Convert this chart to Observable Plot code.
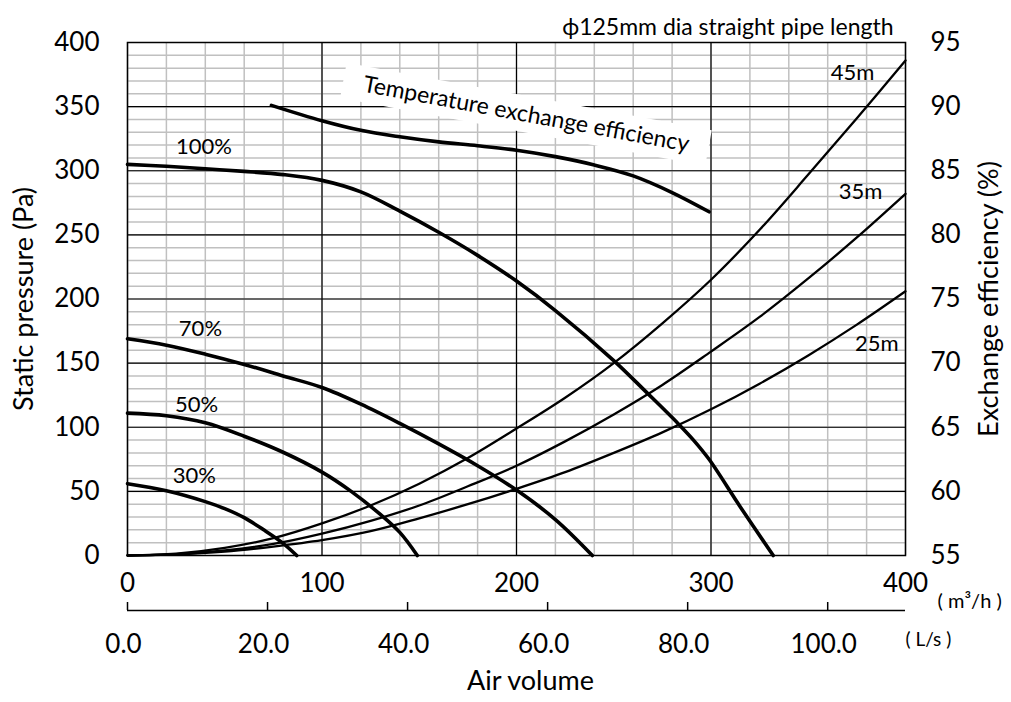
<!DOCTYPE html>
<html>
<head>
<meta charset="utf-8">
<script src="https://cdn.jsdelivr.net/npm/d3@7"></script>
<script src="https://cdn.jsdelivr.net/npm/@observablehq/plot@0.6"></script>
<style>
  html, body { margin: 0; padding: 0; background: white; }
</style>
</head>
<body>
<div id="chart"></div>
<script>
// Air volume (m³/h) vs static pressure (Pa) — fan curves
const fan100 = [[0,305],[20,303.5],[40,301.5],[60,299.5],[80,297],[100,292.5],[120,283.5],[140,268.5],[160,252],[180,234],[200,214],[220,191],[250,152],[267,127],[283,103],[291,90],[299,75],[315,38],[332,0]];
const fan70  = [[0,169],[20,164],[40,157],[60,149],[80,140],[100,131],[120,118],[140,103],[160,87],[180,70],[200,51],[220,28],[239,0]];
const fan50  = [[0,111],[20,109],[40,103.5],[60,93],[80,80.5],[100,65],[115,50],[130,32],[140,18],[149,0]];
const fan30  = [[0,56],[20,50.5],[40,42],[50,36.5],[60,29.5],[70,20],[80,9.5],[87,0]];

// Pipe (system) resistance curves, Pa
const pipe45 = [[0,0],[25,1.5],[50,6],[75,13.5],[100,25],[125,39],[150,56],[175,76],[200,99],[225,123],[250,150],[275,181],[300,215],[325,254],[350,297],[375,341],[400,386]];
const pipe35 = [[0,0],[25,1],[50,4],[75,9],[100,17],[125,27],[150,39],[175,54],[200,70],[225,89],[250,110],[275,133],[300,159],[325,186],[350,216],[375,248],[400,282]];
const pipe25 = [[0,0],[25,0.8],[50,3],[75,7],[100,12],[125,19],[150,29],[175,40],[200,52],[225,65],[250,80],[275,96],[300,114],[325,134],[350,156],[375,180],[400,206]];

// Temperature exchange efficiency (%), right axis
const efficiency = [[74,90.1],[100,88.9],[120,88.15],[140,87.65],[160,87.25],[180,86.95],[200,86.6],[220,86.1],[240,85.45],[260,84.6],[280,83.3],[299,81.8]];

// Tick labels
const pressureTicks = [0,50,100,150,200,250,300,350,400];
const effTicks = [55,60,65,70,75,80,85,90,95];
const m3hTicks = [0,100,200,300,400];
const lsTicks = [0,20,40,60,80,100];
const minorX = d3.range(0, 401, 20);
const majorX = [100,200,300];
const minorY = d3.range(10, 400, 10);
const majorY = [50,100,150,200,250,300,350];

const fanLabels = [
  {text:"100%", q:39.3, p:318.5},
  {text:"70%", q:37.5, p:177},
  {text:"50%", q:35.5, p:117},
  {text:"30%", q:34.4, p:62.4}
];
const pipeLabels = [
  {text:"45m", q:372.8, p:376},
  {text:"35m", q:376.9, p:283.4},
  {text:"25m", q:385.3, p:165}
];
// white label box behind the rotated efficiency caption (ends of its centre line)
const captionBox = [{q:111, p:370.5}, {q:298.7, p:317.7}];

const toRows = arr => arr.map(([q, p]) => ({q, p}));
const effToP = e => (e - 55) * 10;

const font = "Lato, 'Open Sans', sans-serif";

const chart = Plot.plot({
  width: 1011,
  height: 702,
  marginLeft: 127,
  marginRight: 106,
  marginTop: 42,
  marginBottom: 147,
  x: {domain: [0, 400], axis: null},
  y: {domain: [0, 400], axis: null},
  style: {fontFamily: font, fontSize: "26px", color: "black", background: "white"},
  marks: [
    // grid
    Plot.ruleX(minorX, {stroke: "#c0c0c0", strokeWidth: 1.5, strokeOpacity: 1}),
    Plot.ruleY(minorY, {stroke: "#c0c0c0", strokeWidth: 1.5, strokeOpacity: 1}),
    Plot.ruleX(majorX, {stroke: "black", strokeWidth: 1.2}),
    Plot.ruleY(majorY, {stroke: "black", strokeWidth: 1.2}),
    Plot.frame({stroke: "black", strokeWidth: 1.5}),

    // efficiency caption with white box
    Plot.line(captionBox, {x: "q", y: "p", stroke: "white", strokeWidth: 36, strokeLinecap: "butt", curve: "linear"}),
    Plot.text(["Temperature exchange efficiency"], {
      x: 205, y: 344, rotate: 10.5, fontSize: 23, fill: "black"
    }),

    // pipe curves
    Plot.line(toRows(pipe45), {x: "q", y: "p", stroke: "black", strokeWidth: 2.3, curve: "catmull-rom"}),
    Plot.line(toRows(pipe35), {x: "q", y: "p", stroke: "black", strokeWidth: 2.3, curve: "catmull-rom"}),
    Plot.line(toRows(pipe25), {x: "q", y: "p", stroke: "black", strokeWidth: 2.3, curve: "catmull-rom"}),

    // fan curves
    Plot.line(toRows(fan100), {x: "q", y: "p", stroke: "black", strokeWidth: 3.6, curve: "catmull-rom"}),
    Plot.line(toRows(fan70), {x: "q", y: "p", stroke: "black", strokeWidth: 3.6, curve: "catmull-rom"}),
    Plot.line(toRows(fan50), {x: "q", y: "p", stroke: "black", strokeWidth: 3.6, curve: "catmull-rom"}),
    Plot.line(toRows(fan30), {x: "q", y: "p", stroke: "black", strokeWidth: 3.6, curve: "catmull-rom"}),

    // efficiency curve (right axis)
    Plot.line(efficiency.map(([q, e]) => ({q, p: effToP(e)})), {x: "q", y: "p", stroke: "black", strokeWidth: 3.6, curve: "catmull-rom"}),

    // curve labels
    Plot.text(fanLabels, {x: "q", y: "p", text: "text", fontSize: 22, fill: "black"}),
    Plot.text(pipeLabels, {x: "q", y: "p", text: "text", fontSize: 22, fill: "black"}),

    // left axis
    Plot.axisY({anchor: "left", ticks: pressureTicks, tickSize: 0, tickPadding: 28, fontSize: 26, label: null}),
    // right axis
    Plot.axisY({anchor: "right", ticks: effTicks.map(effToP), tickFormat: p => String(55 + p / 10), tickSize: 0, tickPadding: 25, fontSize: 26, label: null}),

    // m³/h labels
    Plot.text(m3hTicks, {x: d => d, frameAnchor: "bottom", dy: 36, text: d => String(d), fontSize: 26, fill: "black"}),
    Plot.text(["( m³/h )"], {frameAnchor: "bottom-right", dx: 32, dy: 52, textAnchor: "start", fontSize: 20, fill: "black"}),

    // L/s axis line & ticks
    Plot.ruleY([0], {dy: 55, stroke: "black", strokeWidth: 1.5}),
    Plot.ruleX(lsTicks, {x: d => d * 3.6, y1: 0, y2: 0, insetTop: -8, dy: 55, stroke: "black", strokeWidth: 1.5}),
    Plot.text(lsTicks, {x: d => d * 3.6, frameAnchor: "bottom", dy: 97, dx: -4, text: d => d.toFixed(1), fontSize: 26, fill: "black"}),
    Plot.text(["( L/s )"], {frameAnchor: "bottom-right", dx: 0, dy: 90, textAnchor: "start", fontSize: 19, fill: "black"}),

    // axis titles
    Plot.text(["Static pressure (Pa)"], {frameAnchor: "left", textAnchor: "middle", dx: -103, rotate: -90, fontSize: 27, fill: "black"}),
    Plot.text(["Exchange efficiency (%)"], {frameAnchor: "right", textAnchor: "middle", dx: 84, rotate: -90, fontSize: 27, fill: "black"}),
    Plot.text(["Air volume"], {frameAnchor: "bottom", textAnchor: "middle", dx: 14, dy: 134, fontSize: 27, fill: "black"}),
    Plot.text(["ϕ125mm dia straight pipe length"], {frameAnchor: "top-right", dx: -12, dy: -24, textAnchor: "end", fontSize: 23, fill: "black"})
  ]
});

document.getElementById("chart").appendChild(chart);
</script>
</body>
</html>
